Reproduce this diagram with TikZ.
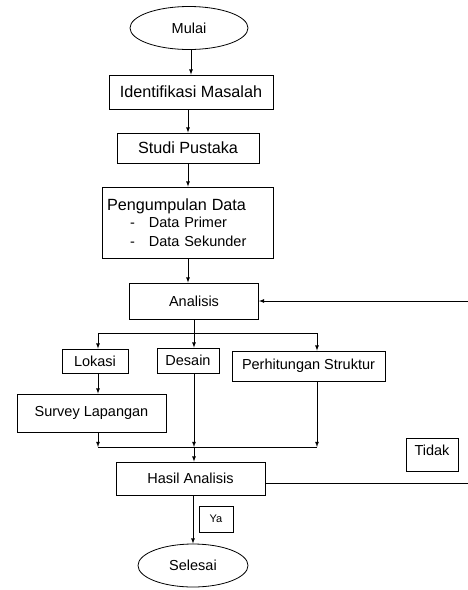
\documentclass[tikz,border=0pt]{standalone}
\usepackage{fontspec}
\setmainfont{Liberation Sans}
\usetikzlibrary{shapes.geometric}

\begin{document}
\begin{tikzpicture}[x=1pt, y=-1pt, >=latex, line width=0.8pt,
    font=\fontsize{14.5}{18}\selectfont,
    stepbox/.style={draw, inner sep=2pt},
    bigtext/.style={font=\fontsize{16.2}{19}\selectfont},
    endpoint/.style={draw, ellipse, inner sep=0pt}]
  \useasboundingbox (0,0) rectangle (467,590);

  \node[endpoint, minimum width=118pt, minimum height=43pt] (mulai) at (189,28) {Mulai};
  \node[stepbox, bigtext, minimum width=164pt, minimum height=34pt] (identifikasi) at (191,92) {Identifikasi Masalah};
  \node[stepbox, bigtext, minimum width=142pt, minimum height=30pt] (studi) at (188,148) {Studi Pustaka};
  \node[stepbox, minimum height=71pt, text width=161pt, align=left, inner xsep=5pt] (pengumpulan) at (187.5,222.5)
    {{\fontsize{16.2}{19}\selectfont Pengumpulan Data}\\[-1pt]
     \hspace*{23pt}-\hspace{14pt}Data Primer\\[1pt]
     \hspace*{23pt}-\hspace{14pt}Data Sekunder};
  \node[stepbox, minimum width=129pt, minimum height=36pt] (analisis) at (194,301) {Analisis};

  \node[stepbox, minimum width=66pt, minimum height=24pt] (lokasi) at (95,361) {Lokasi};
  \node[stepbox, minimum width=62pt, minimum height=25pt] (desain) at (188,360.5) {Desain};
  \node[stepbox, minimum width=153pt, minimum height=30pt] (perhitungan) at (308.5,366) {Perhitungan Struktur};
  \node[stepbox, minimum width=149pt, minimum height=38pt] (survey) at (91.5,413) {Survey Lapangan};

  \node[stepbox, minimum width=149pt, minimum height=33pt] (hasil) at (190.5,478.5) {Hasil Analisis};
  \node[stepbox, minimum width=52pt, minimum height=33pt, text depth=8pt] (tidak) at (432,454.5) {Tidak};
  \node[stepbox, minimum width=34pt, minimum height=26pt, font=\fontsize{11}{13}\selectfont] (ya) at (216,519) {Ya};
  \node[endpoint, minimum width=110pt, minimum height=43pt] (selesai) at (193,565.5) {Selesai};

  \coordinate (bl) at (98,333);  %% branch left
  \coordinate (br) at (317,333); %% branch right
  \coordinate (jl) at (98,447);  %% join left
  \coordinate (jr) at (317,447); %% join right
  \coordinate (back) at (480,483);

  \draw[->] (mulai.south -| identifikasi.north) -- (identifikasi.north);
  \draw[->] (identifikasi.south -| studi.north) -- (studi.north);
  \draw[->] (studi.south) -- (studi.south |- pengumpulan.north);
  \draw[->] (pengumpulan.south -| studi.south) -- (studi.south |- analisis.north);

  \draw (bl) -- (br);
  \draw[->] (analisis.south) -- (analisis.south |- desain.north);
  \draw[->] (bl) -- (bl |- lokasi.north);
  \draw[->] (br) -- (br |- perhitungan.north);
  \draw[->] (bl |- lokasi.south) -- (bl |- survey.north);

  \draw (jl) -- (jr);
  \draw[->] (bl |- survey.south) -- (jl);
  \draw[->] (analisis.south |- desain.south) -- (analisis.south |- jl);
  \draw[->] (br |- perhitungan.south) -- (jr);
  \draw[->] (analisis.south |- jl) -- (analisis.south |- hasil.north);

  \draw[->] (hasil.south -| selesai.north) -- (selesai.north);
  \draw[->] (hasil.east |- back) -- (back) |- (analisis.east);

\end{tikzpicture}
\end{document}
